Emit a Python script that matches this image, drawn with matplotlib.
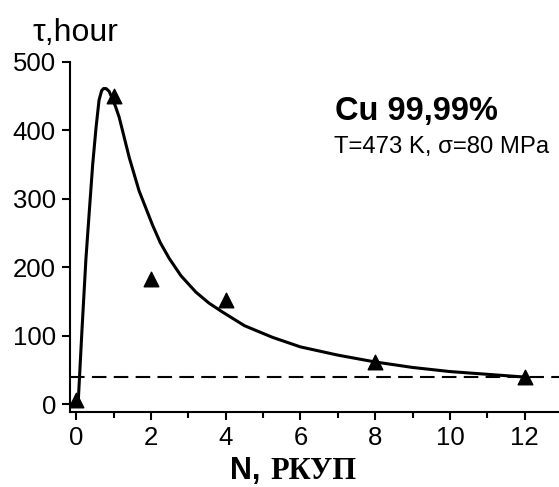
import matplotlib.pyplot as plt

# measured points
n_pts = [0, 1, 2, 4, 8, 12]
tau_pts = [6, 450, 183, 152, 62, 40]

# fitted curve
n_fit = [0.05, 0.15, 0.26, 0.35, 0.44, 0.53, 0.61, 0.68, 0.73, 0.8, 0.88, 0.95, 1.05,
         1.15, 1.42, 1.68, 2.04, 2.25, 2.49, 2.8, 3.2, 3.55, 3.91, 4.5, 5.25, 6, 7,
         8, 9, 10, 11, 12]
tau_fit = [0, 105, 213, 282, 350, 404, 444, 458, 461, 461, 457, 448, 435,
           419, 360, 312, 262, 236, 213, 188, 164, 148, 135, 115, 98, 84, 72,
           62, 54, 48, 44, 40]

tau_limit = 40

plt.rcParams['font.family'] = ['Liberation Sans', 'DejaVu Sans']

fig = plt.figure(figsize=(5.59, 4.87), dpi=100)
ax = fig.add_axes([0.125, 0.154, 0.914, 0.719])

ax.plot(n_fit, tau_fit, color='black', lw=2.2)
ax.scatter(n_pts, tau_pts, marker='^', s=110, color='black', zorder=3)
ax.axhline(tau_limit, color='black', lw=1.5, dashes=(7, 3.5))

ax.set_xlim(-0.17, 13.5)
ax.set_ylim(-11, 500)
ax.set_xticks([0, 2, 4, 6, 8, 10, 12])
ax.set_xticks([1, 3, 5, 7, 9, 11, 13], minor=True)
ax.set_yticks([0, 100, 200, 300, 400, 500])
ax.tick_params(axis='both', which='major', direction='out', length=6, width=1.5,
               labelsize=18.5, pad=4)
ax.tick_params(axis='x', which='minor', direction='out', length=4, width=1.5)
for s in ['top', 'right']:
    ax.spines[s].set_visible(False)
for s in ['left', 'bottom']:
    ax.spines[s].set_linewidth(1.5)

fig.text(0.059, 0.916, '\u03c4,hour', fontsize=23)
fig.text(0.6, 0.754, 'Cu 99,99%', fontsize=23.5, fontweight='bold')
fig.text(0.597, 0.686, 'T=473 K, \u03c3=80 MPa', fontsize=17.2)

fig.text(0.412, 0.016, 'N,', fontsize=22, fontweight='bold')
fig.text(0.483, 0.016, '\u0420\u041a\u0423\u041f', fontsize=22, fontweight='bold',
         family='Liberation Serif')

fig.savefig('out.png', dpi=100)
